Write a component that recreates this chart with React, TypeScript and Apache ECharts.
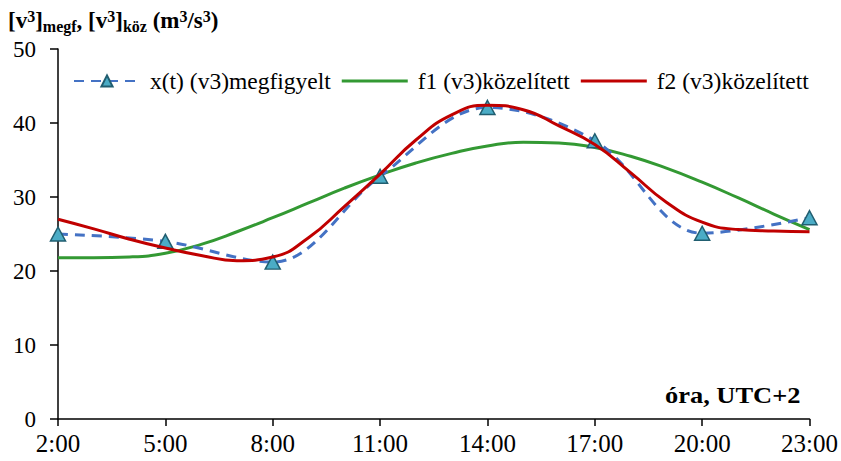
import React, { useEffect, useRef } from "react";
import * as echarts from "echarts";

const obsHours = [2, 5, 8, 11, 14, 17, 20, 23];
const obsValues = [25.0, 24.0, 21.2, 32.8, 42.1, 37.6, 25.1, 27.2];

const fitHours = [2, 3, 4, 5, 6, 7, 8, 9, 10, 11, 12, 13, 14, 15, 16, 17, 18, 19, 20, 21, 22, 23];
const f1Values = [21.8, 21.8, 21.9, 22.4, 23.6, 25.3, 27.2, 29.2, 31.2, 33.0, 34.6, 35.9, 36.9, 37.4, 37.3, 36.7, 35.5, 33.9, 32.0, 29.9, 27.7, 25.6];
const f2Values = [27.0, 25.7, 24.3, 23.1, 22.1, 21.4, 21.9, 24.5, 28.7, 33.1, 37.7, 41.1, 42.4, 41.8, 39.6, 37.1, 33.3, 29.3, 26.6, 25.6, 25.4, 25.3];

const seriesNames = ["x(t) (v3)megfigyelt", "f1 (v3)közelített", "f2 (v3)közelített"];
const xTickHours = [2, 5, 8, 11, 14, 17, 20, 23];

const FONT = "Liberation Serif";
const LINE_ICON = "path://M0,0L66,0L66,3L0,3Z";

export default function App() {
  const ref = useRef<HTMLDivElement>(null);
  useEffect(() => {
    if (!ref.current) return;
    const chart = echarts.init(ref.current, undefined, { renderer: "svg" });
    const pair = (xs: number[], ys: number[]) => xs.map((x, i) => [x, ys[i]]);
    chart.setOption({
      animation: false,
      backgroundColor: "#ffffff",
      textStyle: { fontFamily: FONT },
      grid: { left: 58, right: 31, top: 49, bottom: 42, containLabel: false },
      legend: {
        left: 68,
        top: 64,
        itemWidth: 66,
        itemHeight: 14,
        itemGap: 11,
        textStyle: { fontFamily: FONT, fontSize: 23.5, color: "#000", padding: [0, 0, 0, 5] },
        data: [
          { name: seriesNames[0] },
          { name: seriesNames[1], icon: LINE_ICON },
          { name: seriesNames[2], icon: LINE_ICON },
        ],
      },
      xAxis: {
        type: "value",
        min: 2,
        max: 23,
        interval: 3,
        splitLine: { show: false },
        axisLine: { lineStyle: { color: "#000", width: 1.5 } },
        axisTick: { show: true, length: 7, inside: false, lineStyle: { color: "#000", width: 1.5 } },
        axisLabel: {
          fontFamily: FONT,
          fontSize: 25,
          color: "#000",
          margin: 12,
          formatter: (v: number) => (xTickHours.includes(v) ? `${v}:00` : ""),
        },
      },
      yAxis: {
        type: "value",
        min: 0,
        max: 50,
        interval: 10,
        splitLine: { show: false },
        axisLine: { show: true, lineStyle: { color: "#000", width: 1.5 } },
        axisTick: { show: true, length: 8, lineStyle: { color: "#000", width: 1.5 } },
        axisLabel: { fontFamily: FONT, fontSize: 23, color: "#000", margin: 22 },
      },
      graphic: [
        {
          type: "text",
          left: 8,
          top: 5,
          style: {
            text: "{b|[v}{sup|3}{b|]}{sub|megf}{b|, [v}{sup|3}{b|]}{sub|köz}{b| (m}{sup|3}{b|/s}{sup|3}{b|)}",
            rich: {
              b: { fontFamily: FONT, fontSize: 23, fontWeight: "bold", color: "#000", lineHeight: 30, verticalAlign: "middle" },
              sup: { fontFamily: FONT, fontSize: 16, fontWeight: "bold", color: "#000", lineHeight: 30, verticalAlign: "top", padding: [3, 0, 0, 0] },
              sub: { fontFamily: FONT, fontSize: 16, fontWeight: "bold", color: "#000", lineHeight: 30, verticalAlign: "bottom", padding: [0, 0, 1, 0] },
            },
          },
        },
        {
          type: "text",
          x: 665,
          y: 395,
          scaleX: 1.15,
          style: {
            text: "óra, UTC+2",
            fontFamily: FONT,
            fontSize: 23,
            fontWeight: "bold",
            fill: "#000",
            align: "left",
            verticalAlign: "middle",
          },
        },
      ],
      series: [
        {
          name: seriesNames[0],
          type: "line",
          data: pair(obsHours, obsValues),
          smooth: 0.35,
          symbol: "triangle",
          symbolSize: [15, 14],
          itemStyle: { color: "#4BACC6", borderColor: "#215E70", borderWidth: 1.5 },
          lineStyle: { color: "#4472C4", width: 3, type: [10, 7] },
          z: 3,
        },
        {
          name: seriesNames[1],
          type: "line",
          data: pair(fitHours, f1Values),
          smooth: true,
          showSymbol: false,
          itemStyle: { color: "#339933" },
          lineStyle: { color: "#339933", width: 3 },
          z: 2,
        },
        {
          name: seriesNames[2],
          type: "line",
          data: pair(fitHours, f2Values),
          smooth: true,
          showSymbol: false,
          itemStyle: { color: "#C00000" },
          lineStyle: { color: "#C00000", width: 3 },
          z: 4,
        },
      ],
    });
    return () => chart.dispose();
  }, []);
  return <div ref={ref} style={{ width: 841, height: 461, position: "absolute", left: 0, top: 0 }} />;
}
